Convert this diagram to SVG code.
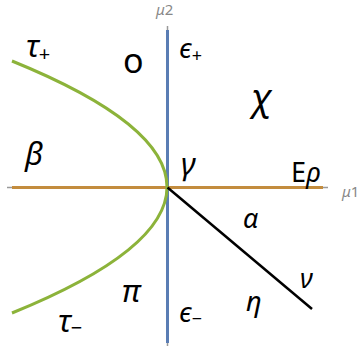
<svg xmlns="http://www.w3.org/2000/svg" width="359" height="351" viewBox="0 0 359 351">
<style>
.lbl{font-family:"Noto Sans","DejaVu Sans",sans-serif;font-style:italic;fill:#000}
.up{font-style:normal}
.ax{font-family:"Noto Sans","DejaVu Sans",sans-serif;font-style:italic;fill:#888;font-size:15px}
.tip{stroke:#999;stroke-width:1.5}
</style>
<rect width="359" height="351" fill="#fff"/>
<g id="connectors" fill="none">
<line class="tip" x1="167.5" y1="26" x2="167.5" y2="32"/>
<line class="tip" x1="167.5" y1="340" x2="167.5" y2="346"/>
<line class="tip" x1="7" y1="187.5" x2="13" y2="187.5"/>
<line class="tip" x1="322" y1="187.5" x2="328" y2="187.5"/>
<line x1="167.5" y1="30" x2="167.5" y2="343" stroke="#5a7db4" stroke-width="3"/>
<line x1="12" y1="187.5" x2="323" y2="187.5" stroke="#c38c3e" stroke-width="3"/>
<path d="M12,61 Q322,187 12,313" stroke="#8cb33a" stroke-width="3"/>
<line x1="167.5" y1="187.5" x2="312" y2="309" stroke="#000" stroke-width="2.5"/>
</g>
<g id="axis-labels">
<text class="ax" x="156" y="15">μ<tspan class="up">2</tspan></text>
<text class="ax" x="342" y="197">μ<tspan class="up">1</tspan></text>
</g>
<g id="tau-plus"><text class="lbl" x="26" y="57" font-size="31">τ<tspan class="up" font-size="20" dy="4">+</tspan></text></g>
<g id="omicron"><text class="lbl up" x="123" y="73" font-size="34">ο</text></g>
<g id="eps-plus"><text class="lbl" x="179" y="58" font-size="28">ϵ<tspan class="up" font-size="18" dy="4">+</tspan></text></g>
<g id="chi"><text class="lbl" x="251" y="110" font-size="37">χ</text></g>
<g id="beta"><text class="lbl" x="25" y="165" font-size="31">β</text></g>
<g id="gamma"><text class="lbl" x="181" y="175" font-size="31">γ</text></g>
<g id="erho"><text class="lbl" x="291" y="182" font-size="27"><tspan class="up">E</tspan>ρ</text></g>
<g id="alpha"><text class="lbl" x="243" y="228" font-size="27">α</text></g>
<g id="nu"><text class="lbl" x="300" y="288" font-size="27">ν</text></g>
<g id="eta"><text class="lbl" x="246" y="311" font-size="27">η</text></g>
<g id="pi"><text class="lbl" x="122" y="302" font-size="31">π</text></g>
<g id="eps-minus"><text class="lbl" x="179" y="322" font-size="28">ϵ<tspan class="up" font-size="18" dy="3">−</tspan></text></g>
<g id="tau-minus"><text class="lbl" x="58" y="332" font-size="31">τ<tspan class="up" font-size="20" dy="3">−</tspan></text></g>
</svg>
